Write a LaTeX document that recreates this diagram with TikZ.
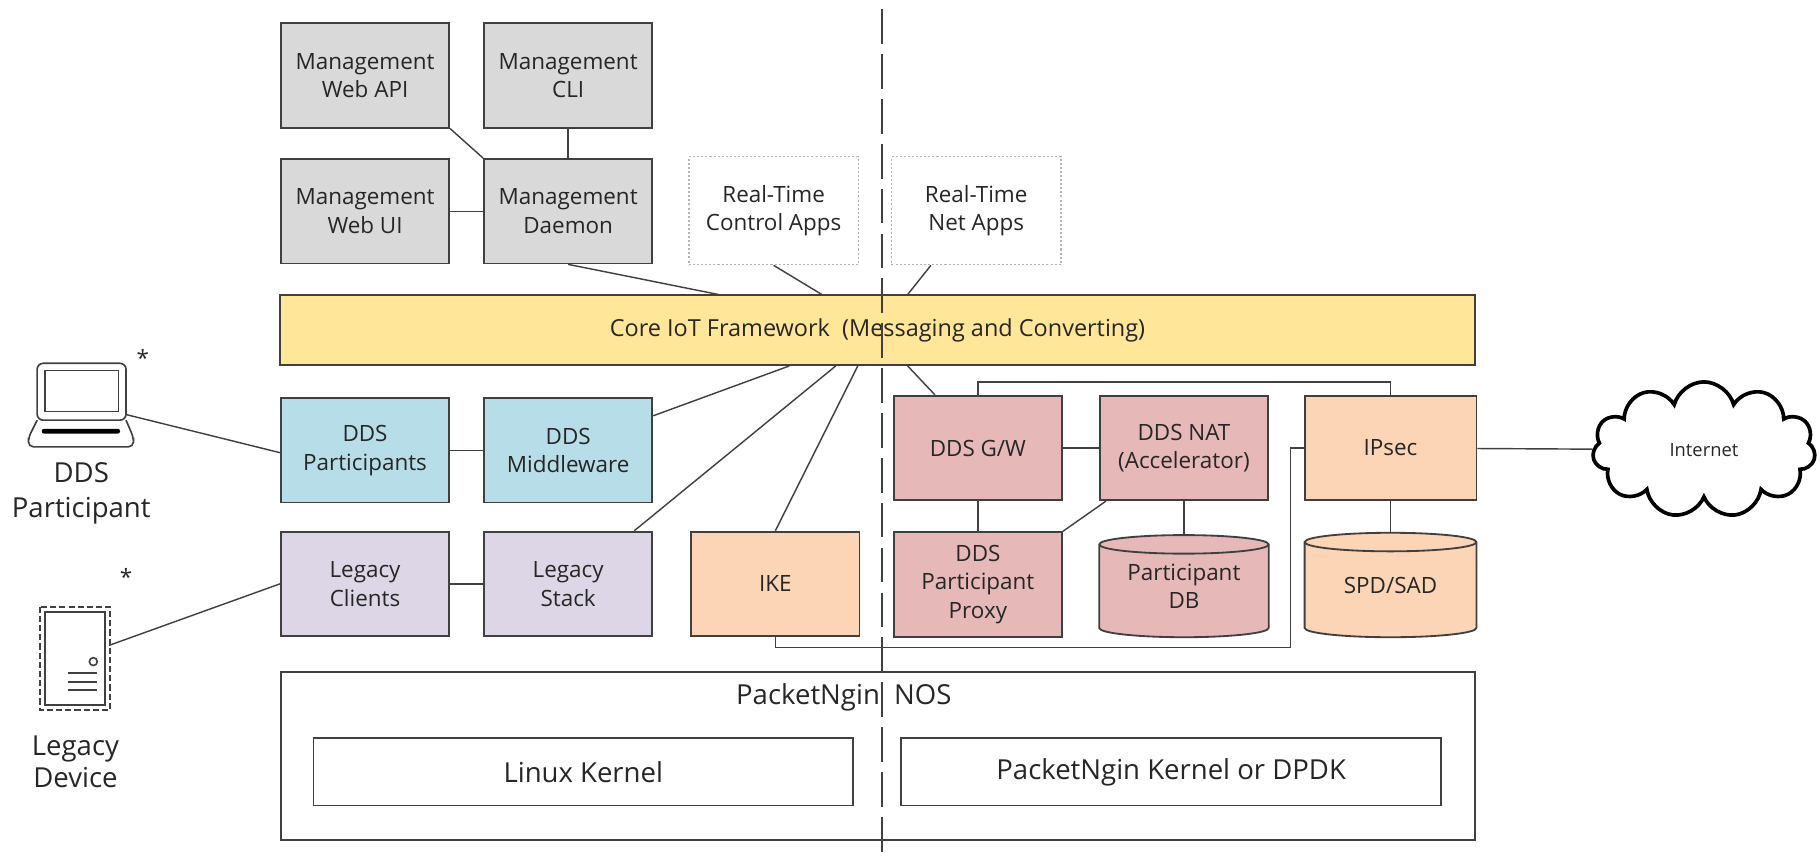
\documentclass[tikz,border=0pt]{standalone}
\usepackage{fontspec}
\setmainfont{Open Sans}
\usepackage{xcolor}
\usetikzlibrary{shapes, shapes.symbols, positioning, calc}

\definecolor{mgmtgray}{HTML}{D9D9D9}
\definecolor{coreyellow}{HTML}{FFE699}
\definecolor{ddsblue}{HTML}{B7DDE8}
\definecolor{legacyviolet}{HTML}{DDD6E6}
\definecolor{secpeach}{HTML}{FBD5B5}
\definecolor{gwpink}{HTML}{E6B9B8}
\definecolor{edgegray}{HTML}{404040}
\definecolor{textgray}{HTML}{262626}

\begin{document}
\begin{tikzpicture}[x=0.02cm, y=-0.02cm,
    every node/.style={text=textgray, font=\fontsize{11}{14}\selectfont},
    block/.style={draw=edgegray, line width=0.9pt, minimum width=2.9cm, minimum height=1.8cm, align=center, inner sep=0pt},
    rtapp/.style={draw=gray!60, line width=0.7pt, dash pattern=on 1pt off 1pt, minimum width=2.92cm, minimum height=1.86cm, align=center, inner sep=0pt},
    kernel/.style={draw=edgegray, line width=0.9pt, minimum width=9.3cm, minimum height=1.16cm, font=\fontsize{13.5}{16}\selectfont},
    devlabel/.style={align=center, inner sep=0pt, font=\fontsize{13.5}{17}\selectfont},
    link/.style={draw=edgegray, line width=0.7pt},
    icon/.style={draw=edgegray, line width=0.8pt},
    split/.style={draw=edgegray, line width=0.8pt, dash pattern=on 17pt off 5pt}]
\useasboundingbox (0,0) rectangle (1568,737.5);

% management
\node[block, fill=mgmtgray] (webapi) at (314.5,65) {Management\\Web API};
\node[block, fill=mgmtgray] (cli) at (489.5,65) {Management\\CLI};
\node[block, fill=mgmtgray] (webui) at (314.5,182) {Management\\Web UI};
\node[block, fill=mgmtgray] (daemon) at (489.5,182) {Management\\Daemon};
\node[rtapp] (rtctrl) at (666.5,181.5) {Real-Time\\Control Apps};
\node[rtapp] (rtnet) at (841,181.5) {Real-Time\\Net Apps};

\node[block, fill=coreyellow, minimum width=20.6cm, minimum height=1.2cm, font=\fontsize{11.5}{14}\selectfont] (core) at (756,284.5) {Core IoT Framework\ \ (Messaging and Converting)};

\node[block, fill=ddsblue] (ddspart) at (314.5,388) {DDS\\Participants};
\node[block, fill=ddsblue] (ddsmw) at (489.5,388) {DDS\\Middleware};
\node[block, fill=legacyviolet] (lclients) at (314.5,503) {Legacy\\Clients};
\node[block, fill=legacyviolet] (lstack) at (489.5,503) {Legacy\\Stack};
\node[block, fill=secpeach] (ike) at (668,503) {IKE};
\node[block, fill=gwpink] (gw) at (842.5,386) {DDS G/W};
\node[block, fill=gwpink] (nat) at (1020,386) {DDS NAT\\(Accelerator)};
\node[block, fill=gwpink] (proxy) at (842.5,503.5) {DDS\\Participant\\Proxy};
\node[block, fill=secpeach, minimum width=2.96cm] (ipsec) at (1198,386) {IPsec};

% databases
\filldraw[fill=gwpink, draw=edgegray, line width=0.9pt] (947,469) -- (947,541) arc[start angle=180, end angle=0, x radius=73, y radius=8] -- (1093,469) arc[start angle=0, end angle=-180, x radius=73, y radius=8] -- cycle;
\draw[edgegray, line width=0.9pt] (947,469) arc[start angle=180, end angle=0, x radius=73, y radius=8];
\node[align=center, inner sep=0pt, minimum width=2.92cm, minimum height=1.76cm] (db) at (1020,505) {Participant\\DB};
\filldraw[fill=secpeach, draw=edgegray, line width=0.9pt] (1124,467) -- (1124,541) arc[start angle=180, end angle=0, x radius=74, y radius=8] -- (1272,467) arc[start angle=0, end angle=-180, x radius=74, y radius=8] -- cycle;
\draw[edgegray, line width=0.9pt] (1124,467) arc[start angle=180, end angle=0, x radius=74, y radius=8];
\node[inner sep=0pt, minimum width=2.96cm, minimum height=1.8cm] (spd) at (1198,504) {SPD/SAD};

% NOS
\node[draw=edgegray, line width=0.9pt, minimum width=20.58cm, minimum height=2.9cm] (nos) at (756.5,651.4) {};
\node[font=\fontsize{13.5}{16}\selectfont] (noslabel) at (727,601) {PacketNgin\ \ NOS};
\node[kernel] (linux) at (502.5,665) {Linux Kernel};
\node[kernel] (dpdk) at (1009,665) {PacketNgin Kernel or DPDK};

\node[cloud, cloud puffs=11, cloud ignores aspect, draw=black, line width=1.8pt, minimum width=3.84cm, minimum height=2.34cm, font=\fontsize{9}{11}\selectfont] (internet) at (1468,387.5) {Internet};

% laptop
\draw[icon, rounded corners=3pt] (32,313) rectangle (108.6,362);
\draw[icon] (38.8,319.3) rectangle (102,354.6);
\draw[icon, rounded corners=2.5pt] (32,362) -- (24.5,377) -- (24.5,385) -- (115,385) -- (115,377) -- (108.6,362);
\fill[black, rounded corners=1pt] (36,369.5) rectangle (103.4,373.5);
\coordinate (laptop) at (108,357);
\node[devlabel] (ddsdev) at (70,425) {DDS\\Participant};
\node[inner sep=0pt] (star1) at (123,308) {*};

% server
\draw[icon, line width=1pt, dash pattern=on 3pt off 1.5pt] (34.5,522.7) rectangle (94.8,611.7);
\draw[icon] (38.8,527) rectangle (90.5,607.4);
\draw[icon] (80.4,570) circle (3.4);
\draw[icon] (58.9,580) -- (83.3,580) (58.9,587.3) -- (83.3,587.3) (58.9,594.5) -- (83.3,594.5);
\coordinate (server) at (94,556);
\node[devlabel, font=\fontsize{13.5}{15.5}\selectfont] (legdev) at (65,656.5) {Legacy\\Device};
\node[inner sep=0pt] (star2) at (108.6,497) {*};

% connections
\draw[link] (webapi.south east) -- (daemon.north west);
\draw[link] (cli) -- (daemon);
\draw[link] (webui) -- (daemon);
\draw[link] (daemon.south) -- ($(core.north)+(-137,0)$);
\draw[link] (rtctrl.south) -- ($(core.north)+(-48,0)$);
\draw[link] ($(rtnet.south)+(-39,0)$) -- ($(core.north)+(26,0)$);
\draw[link] ($(ddsmw.north east)+(0,16)$) -- ($(core.south)+(-76,0)$);
\draw[link] ($(lstack.north)+(57,0)$) -- ($(core.south)+(-36,0)$);
\draw[link] (ike.north) -- ($(core.south)+(-17,0)$);
\draw[link] ($(gw.north)+(-37,0)$) -- ($(core.south)+(26,0)$);
\draw[link] (ddspart) -- (ddsmw);
\draw[link] (lclients) -- (lstack);
\draw[link] (laptop) -- ($(ddspart.west)+(0,2)$);
\draw[link] (server) -- (lclients.west);
\draw[link] (gw) -- (nat);
\draw[link] (gw) -- (proxy);
\draw[link] ($(nat.south west)+(6,0)$) -- (proxy.north east);
\draw[link] (nat) -- (db);
\draw[link] (ipsec) -- (spd);
\draw[link] (gw.north) -- ++(0,-11) -| (ipsec.north);
\coordinate (ikebus) at (1112,558);
\draw[link] (ike.south) |- (ikebus) |- (ipsec.west);
\draw[link] (ipsec) -- (internet);

\coordinate (splittop) at (760,8);
\coordinate (splitbot) at (760,738);
\draw[split] (splittop) -- (splitbot);
\end{tikzpicture}
\end{document}
